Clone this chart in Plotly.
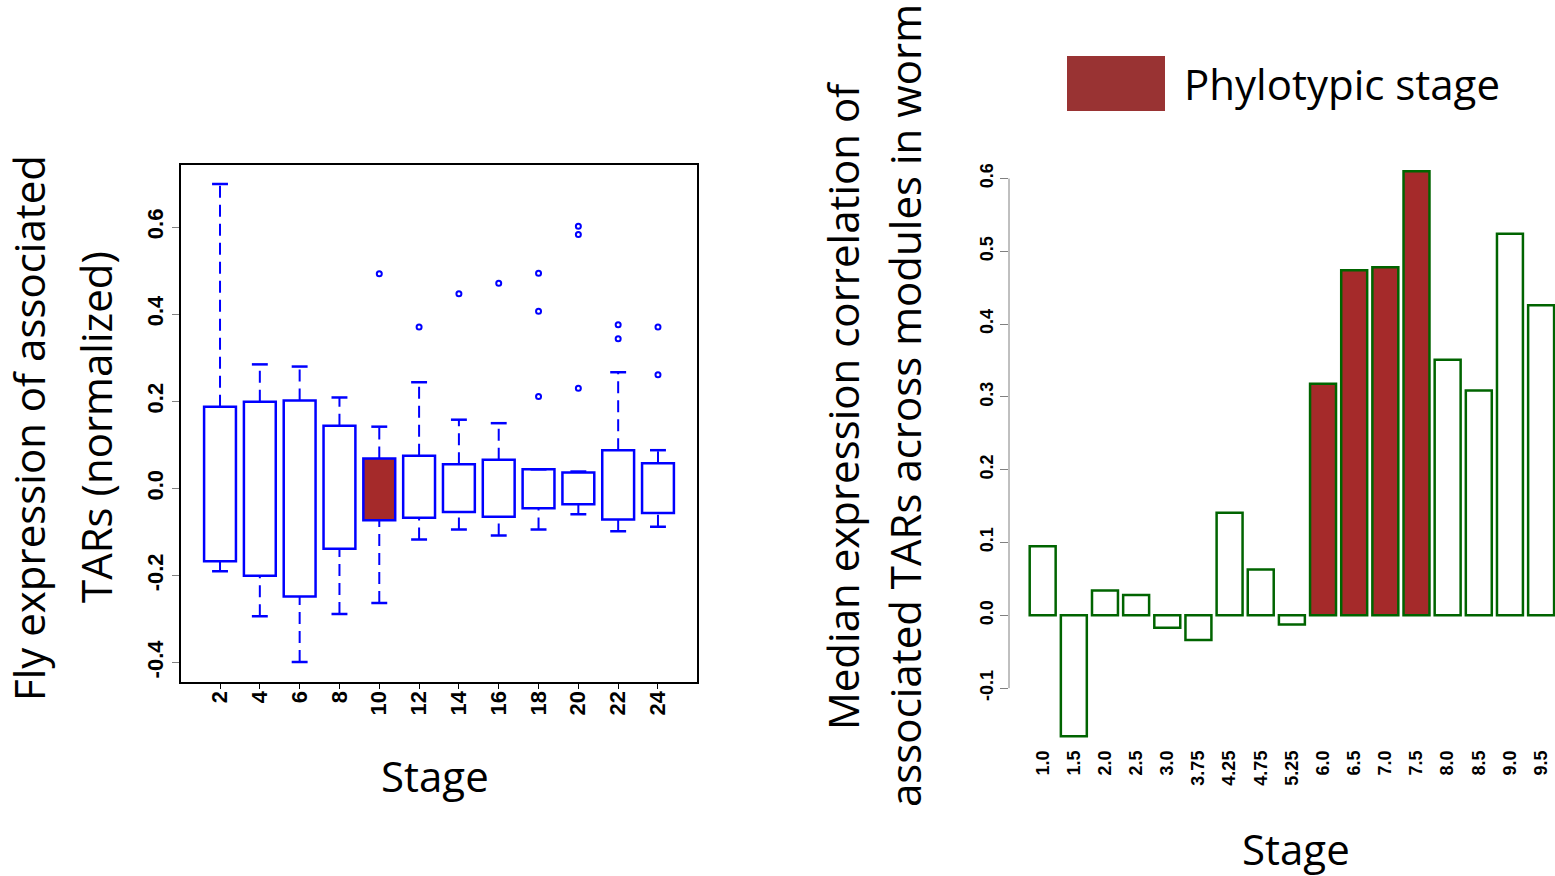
import plotly.graph_objects as go

W, H = 1555, 876

# ---- fly: expression of associated TARs per stage (box summaries) ----
fly_stages = ["2", "4", "6", "8", "10", "12", "14", "16", "18", "20", "22", "24"]
fly_q1 = [-0.167, -0.200, -0.248, -0.138, -0.073, -0.067, -0.054, -0.065, -0.045, -0.036, -0.071, -0.056]
fly_q3 = [0.188, 0.199, 0.202, 0.144, 0.069, 0.075, 0.056, 0.066, 0.044, 0.037, 0.088, 0.058]
fly_whisker_lo = [-0.190, -0.293, -0.398, -0.288, -0.263, -0.117, -0.094, -0.108, -0.094, -0.059, -0.098, -0.088]
fly_whisker_hi = [0.699, 0.285, 0.280, 0.209, 0.142, 0.244, 0.158, 0.150, 0.044, 0.039, 0.267, 0.088]
fly_outliers = [[], [], [], [], [0.493], [0.371], [0.447], [0.471],
                [0.494, 0.407, 0.211], [0.602, 0.583, 0.230], [0.376, 0.344], [0.371, 0.261]]
fly_phylotypic = ["10"]
fly_ytick_vals = [-0.4, -0.2, 0.0, 0.2, 0.4, 0.6]
fly_ytick_text = ["-0.4", "-0.2", "0.0", "0.2", "0.4", "0.6"]

# ---- worm: median expression correlation per stage ----
worm_stages = ["1.0", "1.5", "2.0", "2.5", "3.0", "3.75", "4.25", "4.75", "5.25",
               "6.0", "6.5", "7.0", "7.5", "8.0", "8.5", "9.0", "9.5"]
worm_median_corr = [0.095, -0.166, 0.034, 0.028, -0.017, -0.034, 0.141, 0.063, -0.0125,
                    0.318, 0.474, 0.478, 0.610, 0.351, 0.309, 0.524, 0.426]
worm_phylotypic = ["6.0", "6.5", "7.0", "7.5"]
worm_ytick_vals = [-0.1, 0.0, 0.1, 0.2, 0.3, 0.4, 0.5, 0.6]
worm_ytick_text = ["-0.1", "0.0", "0.1", "0.2", "0.3", "0.4", "0.5", "0.6"]

BLUE = "#0000FF"
BROWN = "#A52A2A"
GREEN = "#006400"
TITLE_FONT = "Open Sans"
TICK_FONT = "Liberation Sans"


def px_x(p):
    return p / W


def px_y(p):
    return 1 - p / H


fig = go.Figure()

# boxes
pos = list(range(1, len(fly_stages) + 1))
box_w = 0.8
cap_half = 0.2
fig.add_trace(go.Bar(
    x=pos, y=[b - a for a, b in zip(fly_q1, fly_q3)], base=fly_q1, width=box_w,
    marker=dict(color=[BROWN if s in fly_phylotypic else "white" for s in fly_stages],
                line=dict(color=BLUE, width=2.5)),
    xaxis="x", yaxis="y", hoverinfo="skip",
))

# dashed whiskers
wx, wy = [], []
for p, lo, a, b, hi in zip(pos, fly_whisker_lo, fly_q1, fly_q3, fly_whisker_hi):
    if hi > b:
        wx += [p, p, None]
        wy += [b, hi, None]
    if lo < a:
        wx += [p, p, None]
        wy += [lo, a, None]
fig.add_trace(go.Scatter(x=wx, y=wy, mode="lines",
                         line=dict(color=BLUE, width=2, dash="12px,7px"),
                         xaxis="x", yaxis="y", hoverinfo="skip"))

# whisker caps
cx, cy = [], []
for p, lo, hi in zip(pos, fly_whisker_lo, fly_whisker_hi):
    cx += [p - cap_half, p + cap_half, None, p - cap_half, p + cap_half, None]
    cy += [hi, hi, None, lo, lo, None]
fig.add_trace(go.Scatter(x=cx, y=cy, mode="lines", line=dict(color=BLUE, width=2.5),
                         xaxis="x", yaxis="y", hoverinfo="skip"))

# outliers
ox, oy = [], []
for p, outs in zip(pos, fly_outliers):
    for v in outs:
        ox.append(p)
        oy.append(v)
fig.add_trace(go.Scatter(x=ox, y=oy, mode="markers",
                         marker=dict(symbol="circle-open", size=5, color=BLUE,
                                     line=dict(width=2, color=BLUE)),
                         xaxis="x", yaxis="y", hoverinfo="skip"))

# worm bars
fig.add_trace(go.Bar(
    x=worm_stages, y=worm_median_corr,
    marker=dict(color=[BROWN if s in worm_phylotypic else "white" for s in worm_stages],
                line=dict(color=GREEN, width=2.5)),
    xaxis="x2", yaxis="y2", hoverinfo="skip",
))

fig.update_layout(
    width=W, height=H,
    margin=dict(l=0, r=0, t=0, b=0),
    paper_bgcolor="white", plot_bgcolor="white",
    showlegend=False,
    bargap=1 / 6,
    xaxis=dict(
        domain=[px_x(181), px_x(697)], range=[0.02, 12.98],
        tickmode="array", tickvals=pos, ticktext=fly_stages, tickangle=-90,
        ticks="outside", ticklen=6, tickcolor="black", tickwidth=1,
        ticklabelstandoff=-7,
        tickfont=dict(family=TICK_FONT, size=22, color="black", weight="bold"),
        showline=True, mirror=True, linecolor="black", linewidth=1.5,
        showgrid=False, zeroline=False, anchor="y",
    ),
    yaxis=dict(
        domain=[px_y(681.5), px_y(165.3)], range=[-0.443, 0.742],
        tickmode="array", tickvals=fly_ytick_vals, ticktext=fly_ytick_text, tickangle=-90,
        ticks="outside", ticklen=7, tickcolor="#808080", tickwidth=1,
        tickfont=dict(family=TICK_FONT, size=22, color="black", weight="bold"),
        showline=True, mirror=True, linecolor="black", linewidth=1.5,
        showgrid=False, zeroline=False, anchor="x",
    ),
    xaxis2=dict(
        domain=[px_x(1009), 1.0], type="category", range=[-1.081, 16.446],
        tickangle=-90, ticks="", showline=False, showgrid=False, zeroline=False,
        tickfont=dict(family=TICK_FONT, size=18, color="black", weight="bold"),
        anchor="y2",
    ),
    yaxis2=dict(
        domain=[px_y(746), px_y(148.7)], range=[-0.1795, 0.641],
        tickmode="array", tickvals=worm_ytick_vals, ticktext=worm_ytick_text, tickangle=-90,
        ticks="outside", ticklen=8, tickcolor="#808080", tickwidth=1,
        tickfont=dict(family=TICK_FONT, size=18, color="black", weight="bold"),
        showline=False, showgrid=False, zeroline=False, anchor="x2",
    ),
    shapes=[
        # worm y-axis spine between the extreme ticks
        dict(type="line", xref="x2 domain", yref="y2", x0=0, x1=0,
             y0=worm_ytick_vals[0], y1=worm_ytick_vals[-1],
             line=dict(color="#808080", width=1)),
        # legend swatch
        dict(type="rect", xref="paper", yref="paper",
             x0=px_x(1067), x1=px_x(1165), y0=px_y(111), y1=px_y(56),
             fillcolor="#993333", line=dict(width=0)),
    ],
)

big = dict(family=TITLE_FONT, size=42, color="black")
annotations = [
    dict(text="Fly expression of associated", x=px_x(28), y=px_y(428), textangle=-90),
    dict(text="TARs (normalized)", x=px_x(95), y=px_y(427), textangle=-90),
    dict(text="Stage", x=px_x(435), y=px_y(775), textangle=0),
    dict(text="Median expression correlation of", x=px_x(842), y=px_y(406), textangle=-90),
    dict(text="associated TARs across modules in worm", x=px_x(905), y=px_y(405), textangle=-90),
    dict(text="Stage", x=px_x(1296), y=px_y(848), textangle=0),
]
for a in annotations:
    fig.add_annotation(xref="paper", yref="paper", showarrow=False,
                       xanchor="center", yanchor="middle", font=big, **a)
fig.add_annotation(text="Phylotypic stage", xref="paper", yref="paper",
                   x=px_x(1182), y=px_y(84), xanchor="left", yanchor="middle",
                   showarrow=False, font=big)

fig.write_html("out.html")
